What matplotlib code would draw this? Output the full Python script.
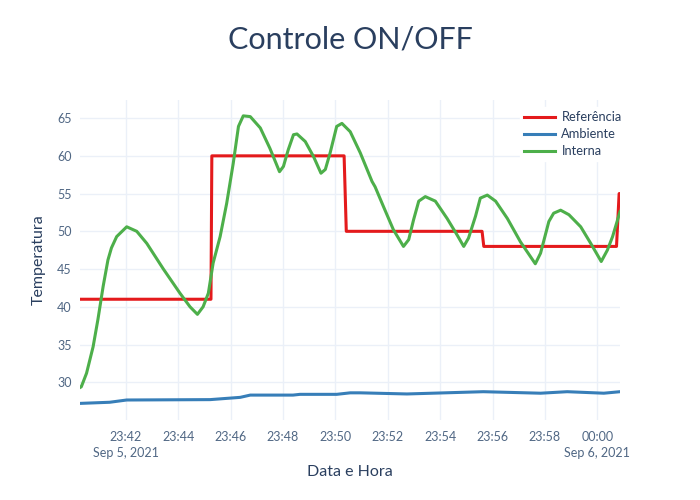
import matplotlib
matplotlib.use("Agg")
import matplotlib.pyplot as plt
import pandas as pd

plt.rcParams['font.family'] = ['Lato', 'DejaVu Sans']

# Interna (internal temperature)
interna_t = ["23:40:15", "23:40:18", "23:40:30", "23:40:45", "23:40:56", "23:41:08",
             "23:41:19", "23:41:27", "23:41:39", "23:42:02", "23:42:25", "23:42:48",
             "23:43:26", "23:44:04", "23:44:27", "23:44:44", "23:44:57", "23:45:09",
             "23:45:20", "23:45:36", "23:45:51", "23:46:06", "23:46:18", "23:46:29",
             "23:46:45", "23:47:08", "23:47:30", "23:47:52", "23:48:01", "23:48:12",
             "23:48:24", "23:48:32", "23:48:51", "23:49:10", "23:49:27", "23:49:37",
             "23:49:48", "23:50:03", "23:50:15", "23:50:34", "23:50:57", "23:51:24",
             "23:51:31", "23:51:50", "23:52:13", "23:52:36", "23:52:48", "23:52:59",
             "23:53:11", "23:53:26", "23:53:49", "23:54:16", "23:54:39", "23:54:54",
             "23:55:05", "23:55:21", "23:55:32", "23:55:48", "23:56:07", "23:56:34",
             "23:57:04", "23:57:38", "23:57:50", "23:58:09", "23:58:20", "23:58:36",
             "23:58:55", "23:59:22", "23:59:45", "00:00:09", "00:00:23", "00:00:35",
             "00:00:52"]
interna_v = [29.3, 29.4, 31.2, 34.7, 38.3, 42.7,
             46.2, 47.8, 49.3, 50.6, 50.0, 48.4,
             45.0, 41.8, 40.0, 39.0, 40.0, 41.8,
             45.8, 49.3, 53.7, 59.0, 63.9, 65.3,
             65.2, 63.7, 61.0, 57.9, 58.6, 60.8,
             62.8, 62.9, 61.9, 59.9, 57.7, 58.2,
             60.4, 63.9, 64.3, 63.2, 60.4, 56.6,
             55.9, 53.3, 50.2, 48.0, 48.9, 51.5,
             54.0, 54.6, 54.0, 51.7, 49.5, 48.0,
             49.1, 52.0, 54.4, 54.8, 54.0, 51.7,
             48.6, 45.7, 47.1, 51.3, 52.4, 52.8,
             52.2, 50.6, 48.4, 46.0, 47.5, 49.3,
             52.6]

# Referência (setpoint)
ref_t = ["23:40:15", "23:45:15", "23:45:17", "23:50:20", "23:50:25",
         "23:55:36", "23:55:40", "00:00:44", "00:00:50", "00:00:52"]
ref_v = [41, 41, 60, 60, 50, 50, 48, 48, 55, 55]

# Ambiente (ambient)
amb_t = ["23:40:15", "23:41:23", "23:42:02", "23:45:13", "23:46:22", "23:46:45",
         "23:48:23", "23:48:39", "23:50:03", "23:50:34", "23:50:57", "23:52:44",
         "23:55:39", "23:57:50", "23:58:51", "00:00:15", "00:00:52"]
amb_v = [27.2, 27.35, 27.65, 27.7, 28.0, 28.3,
         28.3, 28.4, 28.4, 28.6, 28.6, 28.45,
         28.75, 28.55, 28.75, 28.55, 28.75]


def to_dt(times):
    out = []
    for s in times:
        day = "2021-09-06" if s.startswith("00:") else "2021-09-05"
        out.append(pd.Timestamp(day + " " + s))
    return out


fg = "#2a3f5f"
tick_c = "#506784"

fig = plt.figure(figsize=(7, 5), dpi=100)
ax = fig.add_axes([80 / 700, 80 / 500, 540 / 700, 320 / 500])

ax.plot(to_dt(ref_t), ref_v, color="#e41a1c", lw=2.2, label="Referência")
ax.plot(to_dt(amb_t), amb_v, color="#377eb8", lw=2.2, label="Ambiente")
ax.plot(to_dt(interna_t), interna_v, color="#4daf4a", lw=2.2, label="Interna")

all_t = to_dt(interna_t)
ax.set_xlim(all_t[0], all_t[-1])
ax.set_ylim(25.0, 67.4)

ticks = pd.date_range("2021-09-05 23:42", "2021-09-06 00:00", freq="2min")
labels = []
for i, t in enumerate(ticks):
    lab = t.strftime("%H:%M")
    if i == 0 or (t.hour == 0 and t.minute == 0):
        lab += "\n" + t.strftime("%b ") + str(t.day) + t.strftime(", %Y")
    labels.append(lab)
ax.set_xticks(ticks, labels)
ax.set_yticks([30, 35, 40, 45, 50, 55, 60, 65])

for sp in ax.spines.values():
    sp.set_visible(False)
ax.grid(True, color="#ebf0f8", lw=1)
ax.set_axisbelow(True)
ax.tick_params(length=0, labelsize=9, labelcolor=tick_c, pad=6)
ax.tick_params(axis='x', pad=8)
for lab in ax.get_xticklabels():
    lab.set_linespacing(1.4)

ax.set_xlabel("Data e Hora", fontsize=11.5, color=fg, labelpad=4)
ax.set_ylabel("Temperatura", fontsize=11.5, color=fg, labelpad=8)
fig.suptitle("Controle ON/OFF", fontsize=22, color=fg, y=1 - 40 / 500, va="center")

leg = ax.legend(loc="upper right", bbox_to_anchor=(632 / 700, 1 - 101 / 500),
                bbox_transform=fig.transFigure, frameon=True, fancybox=False,
                edgecolor="white", framealpha=1, fontsize=9.3, handlelength=2.4,
                handletextpad=0.5, labelspacing=0.38, borderpad=0.3)
for txt in leg.get_texts():
    txt.set_color(fg)

fig.savefig("out.png", dpi=100)
